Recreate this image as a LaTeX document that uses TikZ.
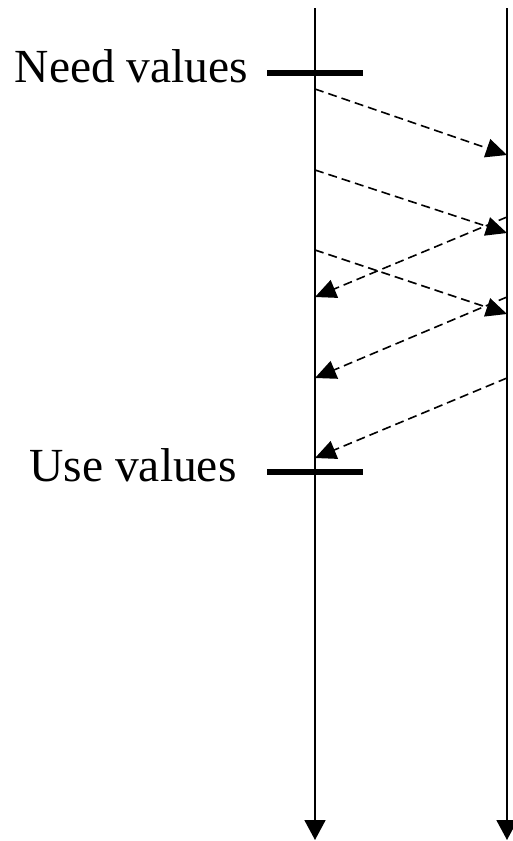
\documentclass[tikz,border=0pt]{standalone}
\usepackage{fontspec}
\setmainfont{Liberation Serif}
\usetikzlibrary{arrows.meta}
\begin{document}
\begin{tikzpicture}[x=1pt,y=-1pt,
  lifeline/.style={line width=1.8pt,-{Triangle[length=20pt,width=21pt]}},
  msg/.style={line width=1.6pt,dash pattern=on 9pt off 5pt,-{Triangle[length=21pt,width=19pt]}},
  bar/.style={line width=5.5pt},
  lbl/.style={font=\fontsize{47.5}{52}\selectfont,anchor=base,inner sep=0pt}]
\useasboundingbox (0,0) rectangle (513,841);
% lifelines
\coordinate (Ltop) at (315,8);
\coordinate (Lbot) at (315,840);
\coordinate (Rtop) at (507,8);
\coordinate (Rbot) at (507,840);
\draw[lifeline] (Ltop) -- (Lbot);
\draw[lifeline] (Rtop) -- (Rbot);
% bars
\coordinate (b1l) at (267,73); \coordinate (b1r) at (363,73);
\coordinate (b2l) at (267,472); \coordinate (b2r) at (363,472);
\draw[bar] (b1l) -- (b1r);
\draw[bar] (b2l) -- (b2r);
\node[lbl] (need) at (131.5,82) {Need values};
\node[lbl] (use) at (133,481) {Use values};
% messages
\coordinate (a1s) at (315,89);  \coordinate (a1e) at (507,155);
\coordinate (a2s) at (315,170); \coordinate (a2e) at (507,233);
\coordinate (a3s) at (507,217); \coordinate (a3e) at (315,297);
\coordinate (a4s) at (315,250); \coordinate (a4e) at (507,314);
\coordinate (a5s) at (507,297); \coordinate (a5e) at (315,378);
\coordinate (a6s) at (507,378); \coordinate (a6e) at (315,458);
\draw[msg] (a1s) -- (a1e);
\draw[msg] (a2s) -- (a2e);
\draw[msg] (a3s) -- (a3e);
\draw[msg] (a4s) -- (a4e);
\draw[msg] (a5s) -- (a5e);
\draw[msg] (a6s) -- (a6e);
\end{tikzpicture}
\end{document}
